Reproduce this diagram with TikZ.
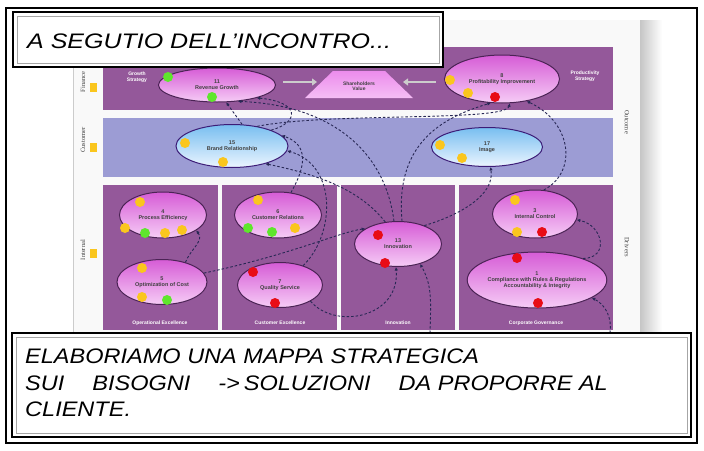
\documentclass[tikz,border=0pt]{standalone}
\usepackage{fontspec}
\setmainfont{Liberation Sans}
\newfontfamily\mapserif{Liberation Serif}
\usetikzlibrary{arrows.meta,shapes.geometric}

\definecolor{bandpurple}{RGB}{148,88,154}
\definecolor{bandblue}{RGB}{156,156,212}
\definecolor{ovalrim}{RGB}{75,35,85}
\definecolor{dashcol}{RGB}{40,40,85}
\definecolor{dotyellow}{RGB}{250,198,30}
\definecolor{dotgreen}{RGB}{95,230,45}
\definecolor{dotred}{RGB}{232,12,22}

\begin{document}
\begin{tikzpicture}[x=1pt,y=-1pt,
  pinkoval/.style={ellipse, draw=ovalrim, line width=1pt, inner sep=0pt, align=center,
    top color={rgb,255:red,214;green,92;blue,214}, bottom color={rgb,255:red,246;green,204;blue,246},
    font=\fontsize{5.5}{6}\selectfont\bfseries, text=black!75},
  blueoval/.style={pinkoval, draw=ovalrim!80!blue,
    top color={rgb,255:red,120;green,190;blue,240}, bottom color={rgb,255:red,235;green,245;blue,255}},
  conn/.style={dashcol, line width=0.9pt, dash pattern=on 2.5pt off 2pt, -{Latex[length=3.5pt,width=3.5pt]}},
  bandtext/.style={font=\fontsize{5}{5.5}\selectfont\bfseries, text=white, align=center},
  sidetext/.style={font=\mapserif\fontsize{6.5}{7}\selectfont, text=black!75},
  comic/.style={font=\fontsize{21}{27}\selectfont\itshape, anchor=west, align=left, inner sep=0pt},
  grayarrow/.style={draw=gray!40, line width=2.2pt, -{Triangle[length=5pt,width=7pt]}}
]
\useasboundingbox (0,0) rectangle (704,450);
\fill[white] (0,0) rectangle (704,450);

% picture background and shadow
\fill[gray!5] (73,20) rectangle (640,334);
\draw[gray!40] (73,20) -- (73,334);
\shade[left color=gray!45, right color=white] (640,20) rectangle (662,334);

% bands
\fill[bandpurple] (103,47) rectangle (613,110);
\fill[bandblue] (103,118) rectangle (613,177);
\fill[bandpurple] (103,185) rectangle (218,330);
\fill[bandpurple] (222,185) rectangle (337,330);
\fill[bandpurple] (341,185) rectangle (455,330);
\fill[bandpurple] (459,185) rectangle (613,330);

% side labels
\node[sidetext, rotate=90] (finance) at (83,82) {Finance};
\node[sidetext, rotate=90] (customer) at (83,140) {Customer};
\node[sidetext, rotate=90] (internal) at (83,250) {Internal};
\node[sidetext, rotate=-90] (outcome) at (627,122) {Outcome};
\node[sidetext, rotate=-90] (drivers) at (627,247) {Drivers};
\foreach \y in {87,147,253}
  \fill[dotyellow] (89.5,\y-4.5) rectangle (96.5,\y+4.5);

% band texts
\node[bandtext] (growth) at (137,77) {Growth\\Strategy};
\node[bandtext] (product) at (585,76) {Productivity\\Strategy};
\node[bandtext] (opex) at (160,323) {Operational Excellence};
\node[bandtext] (custex) at (280,323) {Customer Excellence};
\node[bandtext] (innov) at (398,323) {Innovation};
\node[bandtext] (corpgov) at (536,323) {Corporate Governance};

% shareholders value
\shade[top color={rgb,255:red,236;green,140;blue,236}, bottom color={rgb,255:red,245;green,190;blue,245}]
  (305,98) -- (333,71) -- (385,71) -- (413,98) -- cycle;
\node[font=\fontsize{5}{5.5}\selectfont\bfseries, text=black!75, align=center] (share) at (359,86) {Shareholders\\Value};

% ovals
\node[pinkoval, minimum width=117pt, minimum height=34pt] (f1) at (217,85) {11\\Revenue Growth};
\node[pinkoval, minimum width=115pt, minimum height=48pt] (f2) at (502,79) {8\\Profitability Improvement};
\node[blueoval, minimum width=112pt, minimum height=43pt] (c1) at (232,146) {15\\Brand Relationship};
\node[blueoval, minimum width=111pt, minimum height=39pt] (c2) at (487,147) {17\\Image};
\node[pinkoval, minimum width=87pt, minimum height=46pt] (i1) at (163,215) {4\\Process Efficiency};
\node[pinkoval, minimum width=90pt, minimum height=45pt] (i2) at (162,282) {5\\Optimization of Cost};
\node[pinkoval, minimum width=87pt, minimum height=46pt] (i3) at (278,215) {6\\Customer Relations};
\node[pinkoval, minimum width=85pt, minimum height=45pt] (i4) at (280,285) {7\\Quality Service};
\node[pinkoval, minimum width=87pt, minimum height=45pt] (i5) at (398,244) {13\\Innovation};
\node[pinkoval, minimum width=85pt, minimum height=48pt] (i6) at (535,214) {3\\Internal Control};
\node[pinkoval, minimum width=139pt, minimum height=56pt] (i7) at (537,280) {1\\Compliance with Rules \& Regulations\\Accountability \& Integrity};

\draw[grayarrow] (283,82) -- (317,82);
\draw[grayarrow] (436,82) -- (403,82);

% dots
\foreach \x/\y in {168/77, 212/97}
  \fill[dotgreen] (\x,\y) circle (5);
\foreach \x/\y in {450/80, 468/93, 185/143, 223/162, 440/145, 462/158,
    140/202, 125/228, 165/233, 182/230, 142/268, 142/297,
    258/200, 295/228, 515/200, 517/232}
  \fill[dotyellow] (\x,\y) circle (5);
\foreach \x/\y in {145/233, 167/300, 248/228, 272/232}
  \fill[dotgreen] (\x,\y) circle (5);
\foreach \x/\y in {495/97, 253/272, 275/303, 378/235, 385/263, 542/232, 517/258, 538/303}
  \fill[dotred] (\x,\y) circle (5);

% links
\coordinate (bottomA) at (430,333);
\coordinate (bottomB) at (610,333);
\draw[conn] (i2.40) to[out=70,in=-50] (i1.-25);
\draw[conn] (i2.12) .. controls (290,255) and (340,232) .. (i5.155);
\draw[conn] (i5.35) .. controls (460,215) and (495,195) .. (c2.-80);
\draw[conn] (i4.40) .. controls (335,235) and (338,165) .. (c1.-5);
\draw[conn] (i3.60) .. controls (305,168) and (310,145) .. (c1.12);
\draw[conn] (i5.120) .. controls (360,190) and (320,175) .. (c1.-28);
\draw[conn] (c1.65) -- (f1.-62);
\draw[conn] (c1.22) .. controls (300,122) and (300,102) .. (f1.-18);
\draw[conn] (i5.100) .. controls (385,150) and (330,105) .. (f1.-38);
\draw[conn] (c1.38) .. controls (330,112) and (505,122) .. (f2.-72);
\draw[conn] (i5.80) .. controls (395,145) and (440,118) .. (f2.-115);
\draw[conn] (i6.70) .. controls (578,172) and (572,122) .. (f2.-42);
\draw[conn] (i7.25) .. controls (610,258) and (603,225) .. (i6.-8);
\draw[conn] (bottomB) .. controls (612,318) and (606,305) .. (i7.-18);
\draw[conn] (bottomA) .. controls (431,300) and (432,285) .. (i5.-42);
\draw[conn] (i4.-28) .. controls (335,330) and (400,318) .. (i5.-95);

% captions
\fill[white] (13,12) rectangle (443,67);
\draw[line width=2.4pt] (13,12) rectangle (443,67);
\draw[line width=0.7pt, gray!70] (17,16) rectangle (439,63);
\node[comic] (topcap) at (27,41) {\scalebox{1.19}[1]{A SEGUTIO DELL'INCONTRO...}};

\fill[white] (12,333) rectangle (691,437);
\draw[line width=2.4pt] (12,333) rectangle (691,437);
\draw[line width=0.7pt, gray!70] (16,337) rectangle (687,433);
\node[comic] (line1) at (25,356) {\scalebox{1.12}[1]{ELABORIAMO UNA MAPPA STRATEGICA}};
\node[comic] (line2) at (25,383) {\scalebox{1.12}[1]{SUI\hspace{25pt}BISOGNI\hspace{25pt}->\,SOLUZIONI\hspace{25pt}DA PROPORRE AL}};
\node[comic] (line3) at (25,409) {\scalebox{1.12}[1]{CLIENTE.}};

% outer frame
\draw[line width=1.6pt] (6,8) rectangle (697,443);
\end{tikzpicture}
\end{document}
